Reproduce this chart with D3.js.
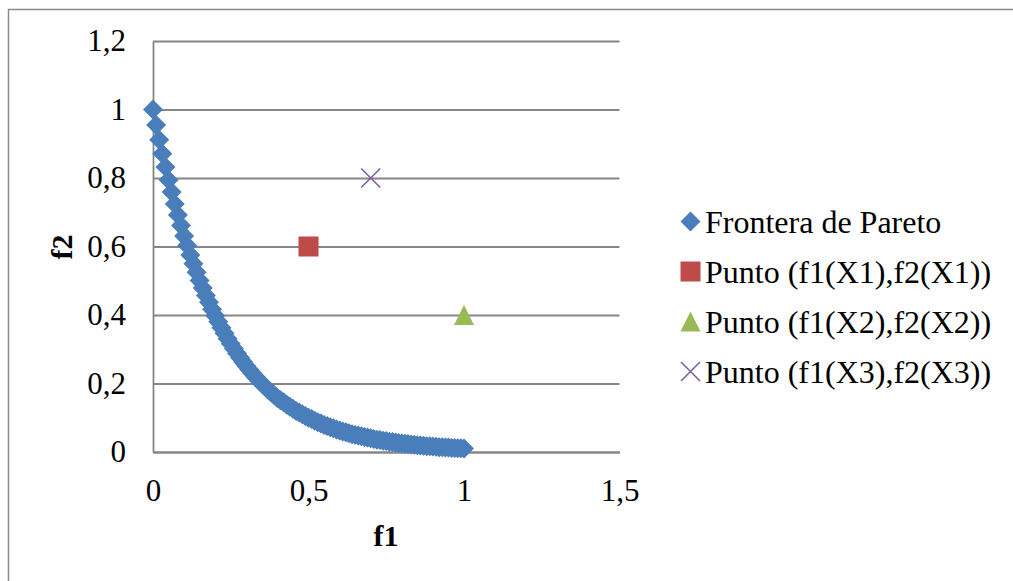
<!DOCTYPE html>
<html>
<head>
<meta charset="utf-8">
<script src="https://cdn.jsdelivr.net/npm/d3@7"></script>
<style>
  html, body { margin: 0; padding: 0; background: #fff; }
  svg { display: block; }
</style>
</head>
<body>
<svg id="chart" width="1013" height="581"></svg>
<script>
// Pareto front samples (f1, f2)
const frontF1 = [0,0.01,0.02,0.03,0.04,0.05,0.06,0.07,0.08,0.09,0.1,0.11,0.12,0.13,0.14,0.15,0.16,0.17,0.18,0.19,0.2,
  0.21,0.22,0.23,0.24,0.25,0.26,0.27,0.28,0.29,0.3,0.31,0.32,0.33,0.34,0.35,0.36,0.37,0.38,0.39,0.4,
  0.41,0.42,0.43,0.44,0.45,0.46,0.47,0.48,0.49,0.5,0.51,0.52,0.53,0.54,0.55,0.56,0.57,0.58,0.59,0.6,
  0.61,0.62,0.63,0.64,0.65,0.66,0.67,0.68,0.69,0.7,0.71,0.72,0.73,0.74,0.75,0.76,0.77,0.78,0.79,0.8,
  0.81,0.82,0.83,0.84,0.85,0.86,0.87,0.88,0.89,0.9,0.91,0.92,0.93,0.94,0.95,0.96,0.97,0.98,0.99,1];
const frontF2 = [1,0.955,0.912,0.871,0.832,0.794,0.759,0.724,0.692,0.661,0.631,0.603,0.575,0.550,0.525,0.501,0.479,0.457,0.437,0.417,0.398,
  0.380,0.363,0.347,0.331,0.316,0.302,0.288,0.275,0.263,0.251,0.240,0.229,0.219,0.209,0.200,0.191,0.182,0.174,0.166,0.158,
  0.151,0.145,0.138,0.132,0.126,0.120,0.115,0.110,0.105,0.100,0.096,0.091,0.087,0.083,0.079,0.076,0.072,0.069,0.066,0.063,
  0.060,0.058,0.055,0.052,0.050,0.048,0.046,0.044,0.042,0.040,0.038,0.036,0.035,0.033,0.032,0.030,0.029,0.028,0.026,0.025,
  0.024,0.023,0.022,0.021,0.020,0.019,0.018,0.017,0.017,0.016,0.015,0.014,0.014,0.013,0.013,0.012,0.012,0.011,0.011,0.010];

// Individual solutions
const pointNames = ["Punto (f1(X1),f2(X1))", "Punto (f1(X2),f2(X2))", "Punto (f1(X3),f2(X3))"];
const pointF1 = [0.5, 1, 0.7];
const pointF2 = [0.6, 0.4, 0.8];

const seriesNames = ["Frontera de Pareto"].concat(pointNames);

// Axis ticks
const xTicks = [0, 0.5, 1, 1.5];
const yTicks = [0, 0.2, 0.4, 0.6, 0.8, 1, 1.2];

const fmt = v => String(v).replace(".", ",");
const FONT = "Liberation Serif";

const colors = { front: "#4A7EBB", x1: "#BE4B48", x2: "#98B954", x3: "#7D60A0", grid: "#868686" };

const svg = d3.select("#chart");

// outer chart frame (runs past the right and bottom edges)
svg.append("rect")
  .attr("x", 8.5).attr("y", 9.5).attr("width", 1100).attr("height", 700)
  .attr("fill", "none").attr("stroke", "#8c8c8c").attr("stroke-width", 1.5);

const x = d3.scaleLinear().domain([0, 1.5]).range([153, 619.5]);
const y = d3.scaleLinear().domain([0, 1.2]).range([452, 41]);

// horizontal gridlines
svg.append("g")
  .attr("transform", `translate(${x(0)},0)`)
  .call(d3.axisLeft(y).tickValues(yTicks).tickSize(-(x(1.5) - x(0))).tickFormat(""))
  .call(g => g.select(".domain").remove())
  .call(g => g.selectAll("line").attr("stroke", colors.grid).attr("stroke-width", 1.8));

// y axis
const yAxis = svg.append("g")
  .attr("transform", `translate(${x(0)},0)`)
  .call(d3.axisLeft(y).tickValues(yTicks).tickSize(0).tickPadding(27).tickFormat(fmt))
  .attr("font-family", null).attr("font-size", null);
yAxis.select(".domain").attr("stroke", colors.grid).attr("stroke-width", 1.8);
yAxis.selectAll("text").style("font-size", "31px").style("font-family", FONT).attr("fill", "#000");

// x axis
const xAxis = svg.append("g")
  .attr("transform", `translate(0,${y(0)})`)
  .call(d3.axisBottom(x).tickValues(xTicks).tickSize(0).tickPadding(27).tickFormat(fmt))
  .attr("font-family", null).attr("font-size", null);
xAxis.select(".domain").attr("stroke", colors.grid).attr("stroke-width", 1.8);
xAxis.selectAll("text").style("font-size", "31px").style("font-family", FONT).attr("fill", "#000");

// axis titles
svg.append("text")
  .attr("x", 386).attr("y", 546)
  .attr("text-anchor", "middle")
  .style("font-size", "30px").style("font-weight", "bold").style("font-family", FONT)
  .text("f1");
svg.append("text")
  .attr("transform", "translate(72,247) rotate(-90)")
  .attr("text-anchor", "middle")
  .style("font-size", "30px").style("font-weight", "bold").style("font-family", FONT)
  .text("f2");

// Pareto front as diamonds
const diamond = d3.symbol().type(d3.symbolSquare).size(200);
const frontData = frontF1.map((v, i) => [v, frontF2[i]]);
svg.append("g").selectAll("path")
  .data(frontData).join("path")
  .attr("d", diamond)
  .attr("transform", d => `translate(${x(d[0])},${y(d[1])}) rotate(45)`)
  .attr("fill", colors.front);

// individual points
const markerDraw = {
  square: (g, cx, cy) => g.append("rect").attr("x", cx - 10).attr("y", cy - 10).attr("width", 20).attr("height", 20).attr("fill", colors.x1),
  triangle: (g, cx, cy) => g.append("path").attr("d", `M${cx},${cy - 10}L${cx + 10},${cy + 10}L${cx - 10},${cy + 10}Z`).attr("fill", colors.x2),
  cross: (g, cx, cy) => g.append("path").attr("d", `M${cx - 9.5},${cy - 9.5}L${cx + 9.5},${cy + 9.5}M${cx + 9.5},${cy - 9.5}L${cx - 9.5},${cy + 9.5}`).attr("stroke", colors.x3).attr("stroke-width", 1.6).attr("fill", "none")
};
const markerKinds = ["square", "triangle", "cross"];
const pts = svg.append("g");
pointF1.forEach((v, i) => markerDraw[markerKinds[i]](pts, x(v), y(pointF2[i])));

// legend
const legend = svg.append("g");
const legendY0 = 221.5, legendStep = 50, markerX = 690.5, textX = 705;
seriesNames.forEach((name, i) => {
  const cy = legendY0 + i * legendStep;
  if (i === 0) {
    legend.append("path").attr("d", diamond).attr("transform", `translate(${markerX},${cy}) rotate(45)`).attr("fill", colors.front);
  } else {
    markerDraw[markerKinds[i - 1]](legend, markerX, cy);
  }
  legend.append("text")
    .attr("x", textX).attr("y", cy).attr("dy", "0.35em")
    .style("font-size", "32px").style("font-family", FONT)
    .text(name);
});
</script>
</body>
</html>
